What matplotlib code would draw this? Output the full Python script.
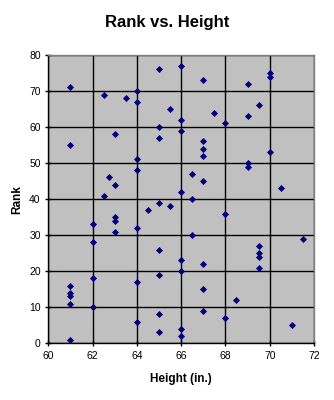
import matplotlib
matplotlib.use("Agg")
import matplotlib.pyplot as plt

plt.rcParams['font.family'] = ['Liberation Sans', 'DejaVu Sans']

# Height (in.) and rank of each person
heights = [61, 61, 61, 61, 61, 61, 61,
           62, 62, 62, 62,
           62.5, 62.5, 62.75,
           63, 63, 63, 63, 63,
           63.5,
           64, 64, 64, 64, 64, 64, 64,
           64.5,
           65, 65, 65, 65, 65, 65, 65, 65,
           65.5, 65.5,
           66, 66, 66, 66, 66, 66, 66, 66,
           66.5, 66.5, 66.5,
           67, 67, 67, 67, 67, 67, 67, 67,
           67.5,
           68, 68, 68,
           68.5,
           69, 69, 69, 69,
           69.5, 69.5, 69.5, 69.5, 69.5,
           70, 70, 70,
           70.5, 71, 71.5]
ranks = [71, 55, 16, 14, 13, 11, 1,
         33, 28, 18, 10,
         69, 41, 46,
         58, 44, 35, 34, 31,
         68,
         70, 67, 51, 48, 32, 17, 6,
         37,
         76, 60, 57, 39, 26, 19, 8, 3,
         65, 38,
         77, 62, 59, 42, 23, 20, 4, 2,
         47, 40, 30,
         73, 56, 54, 52, 45, 22, 15, 9,
         64,
         61, 36, 7,
         12,
         72, 63, 50, 49,
         66, 27, 25, 24, 21,
         75, 74, 53,
         43, 5, 29]

x_ticks = [60, 62, 64, 66, 68, 70, 72]
y_ticks = [0, 10, 20, 30, 40, 50, 60, 70, 80]

fig = plt.figure(figsize=(3.34, 4.0), dpi=100, facecolor='white')
ax = fig.add_axes([0.1446, 0.1418, 0.7955, 0.7208])
ax.set_facecolor('#C0C0C0')

ax.scatter(heights, ranks, marker='D', s=13, color='#000080', zorder=3, linewidths=0)

ax.set_xlim(60, 72)
ax.set_ylim(0, 80)
ax.set_xticks(x_ticks)
ax.set_yticks(y_ticks)
ax.grid(True, color='black', linewidth=1.0)
ax.set_axisbelow(True)

for side in ['top', 'right']:
    ax.spines[side].set_color('#808080')
    ax.spines[side].set_linewidth(1.0)
for side in ['left', 'bottom']:
    ax.spines[side].set_color('black')
    ax.spines[side].set_linewidth(1.0)

ax.tick_params(direction='inout', length=5, width=1, labelsize=7.5, pad=3)

ax.set_xlabel('Height (in.)', fontsize=8.5, fontweight='bold', labelpad=9)
ax.set_ylabel('Rank', fontsize=8.5, fontweight='bold', labelpad=4)
fig.text(0.50, 0.945, 'Rank vs. Height', ha='center', va='center',
         fontsize=12, fontweight='bold')

fig.savefig('out.png', dpi=100, facecolor='white')
